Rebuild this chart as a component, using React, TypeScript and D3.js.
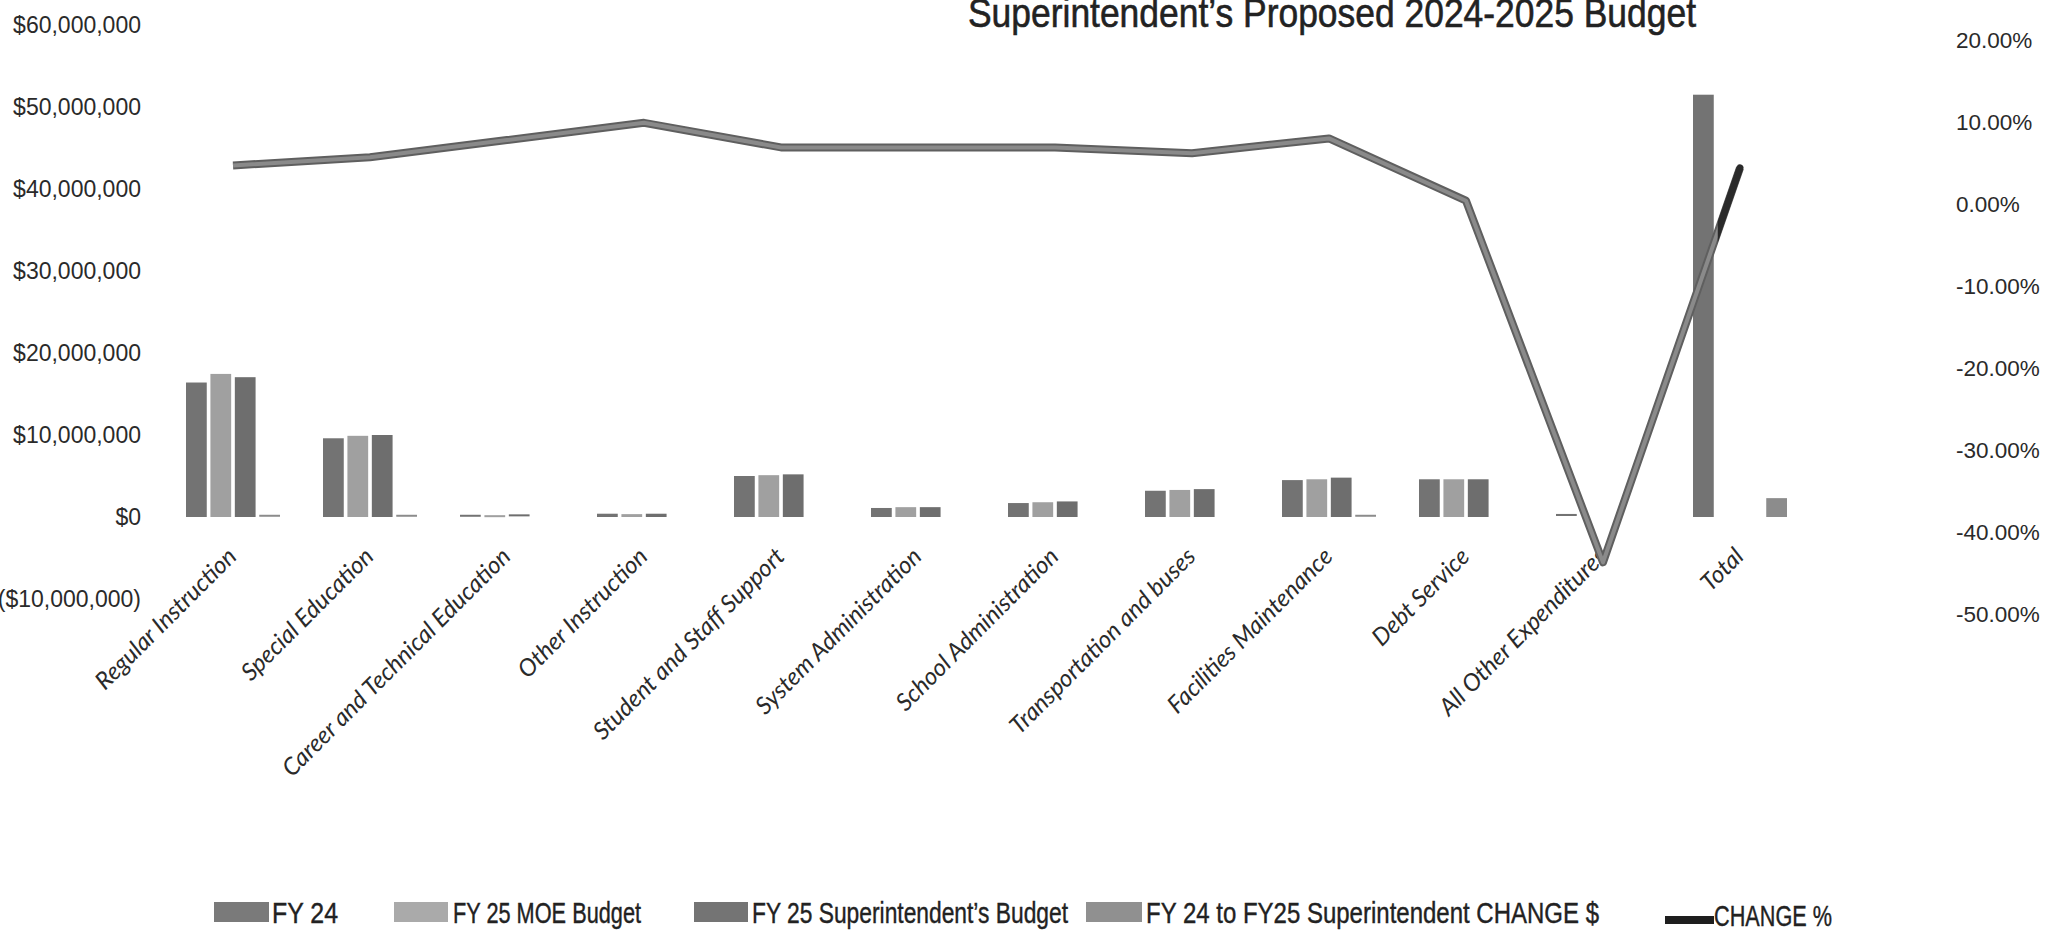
import { useEffect, useRef } from "react";
import * as d3 from "d3";

const categories = [
  "Regular Instruction",
  "Special Education",
  "Career and Technical Education",
  "Other Instruction",
  "Student and Staff Support",
  "System Administration",
  "School Administration",
  "Transportation and buses",
  "Facilities Maintenance",
  "Debt Service",
  "All Other Expenditures",
  "Total",
];

// values in millions of dollars
const fy24 = [16.4, 9.6, 0.15, 0.4, 5.0, 1.1, 1.7, 3.2, 4.5, 4.6, 0.25, 51.5];
const fy25Moe = [17.45, 9.9, 0.1, 0.35, 5.1, 1.2, 1.8, 3.3, 4.6, 4.6, 0, 0];
const fy25Supt = [17.05, 10.0, 0.2, 0.4, 5.2, 1.2, 1.9, 3.4, 4.8, 4.6, 0, 0];
const changeDollars = [0.15, 0.15, 0, 0, 0, 0, 0, 0, 0.15, 0, 0, 2.3];
// percent
const changePct = [4.7, 5.7, 7.8, 9.9, 6.9, 6.9, 6.9, 6.2, 8.0, 0.4, -43.7, 4.4];

const leftTicks = [-10, 0, 10, 20, 30, 40, 50, 60];
const rightTicks = [-50, -40, -30, -20, -10, 0, 10, 20];

const seriesNames = [
  "FY 24",
  "FY 25 MOE Budget",
  "FY 25 Superintendent\u2019s Budget",
  "FY 24 to FY25 Superintendent CHANGE $",
];
const lineName = "CHANGE %";
const title = "Superintendent\u2019s Proposed 2024-2025 Budget";

const App = () => {
  const ref = useRef<SVGSVGElement>(null);

  useEffect(() => {
    const svg = d3.select(ref.current);
    svg.selectAll("*").remove();

    const seriesData = [fy24, fy25Moe, fy25Supt, changeDollars];
    const barColors = ["#737373", "#a0a0a0", "#6e6e6e", "#8c8c8c"];
    const legendColors = ["#7a7a7a", "#aaaaaa", "#747474", "#909090"];

    const x0 = d3
      .scaleBand()
      .domain(categories)
      .range([164.5, 1808.5])
      .paddingInner(0.314)
      .paddingOuter(0.157);
    const x1 = d3
      .scaleBand()
      .domain(seriesNames)
      .range([0, x0.bandwidth()])
      .paddingInner(0.15);

    const yLeft = d3.scaleLinear().domain([-10, 60]).range([599, 25]);
    const yRight = d3.scaleLinear().domain([-50, 20]).range([614, 40]);

    // title, top cut off as in the scan
    svg
      .append("text")
      .attr("x", 968)
      .attr("y", 27)
      .attr("textLength", 728)
      .attr("lengthAdjust", "spacingAndGlyphs")
      .attr("font-family", "Liberation Sans, Arial, sans-serif")
      .attr("font-size", 41)
      .attr("fill", "#222")
      .attr("stroke", "#222")
      .attr("stroke-width", 0.6)
      .text(title);

    // left axis
    const axisL = d3
      .axisLeft(yLeft)
      .tickValues(leftTicks)
      .tickSize(0)
      .tickPadding(0)
      .tickFormat((d) => {
        const v = (d as number) * 1e6;
        return v < 0 ? `($${d3.format(",")(-v)})` : `$${d3.format(",")(v)}`;
      });
    const gL = svg.append("g").attr("transform", "translate(141,0)").call(axisL);
    gL.select(".domain").remove();
    gL.selectAll("text")
      .attr("font-family", "Liberation Sans, Arial, sans-serif")
      .attr("font-size", 23)
      .attr("fill", "#2a2a2a");

    // right axis
    const axisR = d3
      .axisRight(yRight)
      .tickValues(rightTicks)
      .tickSize(0)
      .tickPadding(0)
      .tickFormat((d) => `${(d as number).toFixed(2)}%`);
    const gR = svg.append("g").attr("transform", "translate(1956,0)").call(axisR);
    gR.select(".domain").remove();
    gR.selectAll("text")
      .attr("font-family", "Liberation Sans, Arial, sans-serif")
      .attr("font-size", 22.5)
      .attr("fill", "#2a2a2a");

    // bars
    const groups = svg
      .append("g")
      .selectAll("g")
      .data(categories)
      .enter()
      .append("g")
      .attr("transform", (d) => `translate(${x0(d)},0)`);

    groups
      .selectAll("rect")
      .data((_, i) => seriesData.map((s, k) => ({ k, v: s[i] })))
      .enter()
      .append("rect")
      .filter((d) => d.v !== 0)
      .attr("x", (d) => x1(seriesNames[d.k]) as number)
      .attr("y", (d) => Math.min(yLeft(d.v), yLeft(0)) - (d.v < 0.3 ? 1 : 0))
      .attr("width", x1.bandwidth())
      .attr("height", (d) => Math.max(Math.abs(yLeft(d.v) - yLeft(0)), 2))
      .attr("fill", (d) => barColors[d.k]);

    // category labels
    svg
      .append("g")
      .selectAll("text")
      .data(categories)
      .enter()
      .append("text")
      .attr(
        "transform",
        (d) => `translate(${(x0(d) as number) + x0.bandwidth() / 2 + 5},558) rotate(-45)`
      )
      .attr("text-anchor", "end")
      .attr("font-family", "Lato, sans-serif")
      .attr("font-style", "italic")
      .attr("font-size", 24)
      .attr("fill", "#2a2a2a")
      .text((d) => d);

    // change % line
    const line = d3
      .line<number>()
      .x((_, i) => (x0(categories[i]) as number) + x0.bandwidth() / 2)
      .y((d) => yRight(d));
    svg
      .append("path")
      .datum(changePct)
      .attr("d", line)
      .attr("fill", "none")
      .attr("stroke", "#5f5f5f")
      .attr("stroke-width", 8)
      .attr("stroke-linejoin", "round");
    svg
      .append("path")
      .datum(changePct)
      .attr("d", line)
      .attr("fill", "none")
      .attr("stroke", "#8a8a8a")
      .attr("stroke-width", 4)
      .attr("stroke-linejoin", "round");

    // the tip of the line right of the Total bar shows dark in the scan
    const totalBarRight =
      (x0("Total") as number) + (x1(seriesNames[0]) as number) + x1.bandwidth();
    svg
      .append("clipPath")
      .attr("id", "tip-clip")
      .append("rect")
      .attr("x", totalBarRight + 4)
      .attr("y", 0)
      .attr("width", 200)
      .attr("height", 600);
    svg
      .append("path")
      .datum(changePct)
      .attr("d", line)
      .attr("clip-path", "url(#tip-clip)")
      .attr("fill", "none")
      .attr("stroke", "#2a2a2a")
      .attr("stroke-width", 7)
      .attr("stroke-linecap", "round");

    // legend
    const legendY = 912;
    const legendItems = [
      { sx: 214, sw: 55, tx: 272, tw: 66 },
      { sx: 394, sw: 54, tx: 453, tw: 188 },
      { sx: 694, sw: 54, tx: 752, tw: 316 },
      { sx: 1086, sw: 56, tx: 1146, tw: 453 },
    ];
    const lg = svg.append("g");
    legendItems.forEach((it, k) => {
      lg.append("rect")
        .attr("x", it.sx)
        .attr("y", legendY - 10)
        .attr("width", it.sw)
        .attr("height", 20)
        .attr("fill", legendColors[k]);
      lg.append("text")
        .attr("x", it.tx)
        .attr("y", legendY + 11)
        .attr("textLength", it.tw)
        .attr("lengthAdjust", "spacingAndGlyphs")
        .attr("font-family", "Liberation Sans, Arial, sans-serif")
        .attr("font-size", 29)
        .attr("fill", "#222")
        .attr("stroke", "#222")
        .attr("stroke-width", 0.4)
        .text(seriesNames[k]);
    });
    lg.append("line")
      .attr("x1", 1665)
      .attr("x2", 1714)
      .attr("y1", legendY + 8)
      .attr("y2", legendY + 8)
      .attr("stroke", "#1e1e1e")
      .attr("stroke-width", 8);
    lg.append("text")
      .attr("x", 1714)
      .attr("y", legendY + 14)
      .attr("textLength", 118)
      .attr("lengthAdjust", "spacingAndGlyphs")
      .attr("font-family", "Liberation Sans, Arial, sans-serif")
      .attr("font-size", 29)
      .attr("fill", "#222")
      .attr("stroke", "#222")
      .attr("stroke-width", 0.4)
      .text(lineName);
  }, []);

  return (
    <div style={{ position: "fixed", left: 0, top: 0, background: "#fff" }}>
      <svg ref={ref} width={2059} height={940} style={{ display: "block" }} />
    </div>
  );
};

export default App;
